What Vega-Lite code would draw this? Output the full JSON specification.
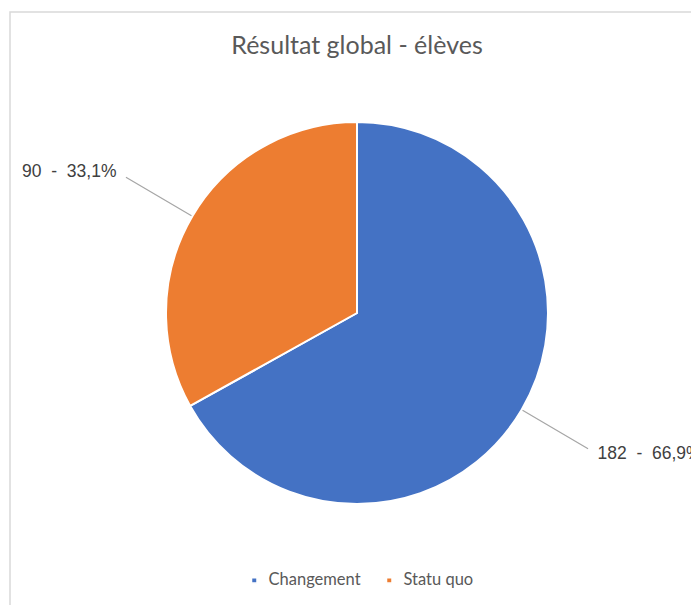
{
  "$schema": "https://vega.github.io/schema/vega-lite/v6.json",
  "autosize": "none",
  "width": 694,
  "height": 602,
  "padding": {"left": 10, "top": 12, "right": -13, "bottom": -9},
  "background": "white",
  "view": {"stroke": "#d9d9d9", "strokeWidth": 1.5, "fill": "white"},
  "title": {
    "text": "Résultat global - élèves",
    "offset": -47,
    "font": "Lato",
    "fontSize": 25,
    "fontWeight": "normal",
    "color": "#595959",
    "anchor": "middle"
  },
  "data": {
    "values": [
      {"categorie": "Changement", "n": 182, "label": "182\u00a0\u00a0-\u00a0\u00a066,9%", "side": "right"},
      {"categorie": "Statu quo", "n": 90, "label": "90\u00a0\u00a0-\u00a0\u00a033,1%", "side": "left"}
    ]
  },
  "transform": [
    {"window": [{"op": "sum", "field": "n", "as": "cum"}], "sort": [{"field": "categorie", "order": "ascending"}], "frame": [null, 0]},
    {"calculate": "datum.cum - datum.n / 2", "as": "mid"}
  ],
  "layer": [
    {
      "mark": {"type": "arc", "radius": 191, "stroke": "white", "strokeWidth": 2},
      "encoding": {
        "theta": {"field": "n", "type": "quantitative", "stack": true, "scale": {"domain": [0, 272]}},
        "color": {
          "field": "categorie",
          "type": "nominal",
          "scale": {"domain": ["Changement", "Statu quo"], "range": ["#4472C4", "#ED7D31"]},
          "legend": {
            "orient": "none",
            "legendX": 236,
            "legendY": 560,
            "direction": "horizontal",
            "title": null,
            "symbolType": "square",
            "symbolSize": 30,
            "labelFont": "Lato",
            "labelFontSize": 16.5,
            "labelColor": "#595959",
            "labelOffset": 6,
            "columnPadding": 20
          }
        }
      }
    },
    {
      "mark": {"type": "arc", "radius": 268, "radius2": 192, "fill": "transparent", "stroke": "#a6a6a6", "strokeWidth": 1.2},
      "encoding": {
        "theta": {"field": "mid", "type": "quantitative", "stack": null, "scale": {"domain": [0, 272]}},
        "theta2": {"field": "mid"}
      }
    },
    {
      "transform": [{"filter": "datum.side === 'left'"}],
      "mark": {"type": "text", "radius": 279, "align": "right", "baseline": "middle", "font": "Liberation Sans", "fontSize": 17.5, "color": "#404040"},
      "encoding": {
        "theta": {"field": "mid", "type": "quantitative", "stack": null, "scale": {"domain": [0, 272]}},
        "text": {"field": "label"}
      }
    },
    {
      "transform": [{"filter": "datum.side === 'right'"}],
      "mark": {"type": "text", "radius": 279, "align": "left", "baseline": "middle", "font": "Liberation Sans", "fontSize": 17.5, "color": "#404040"},
      "encoding": {
        "theta": {"field": "mid", "type": "quantitative", "stack": null, "scale": {"domain": [0, 272]}},
        "text": {"field": "label"}
      }
    }
  ]
}
